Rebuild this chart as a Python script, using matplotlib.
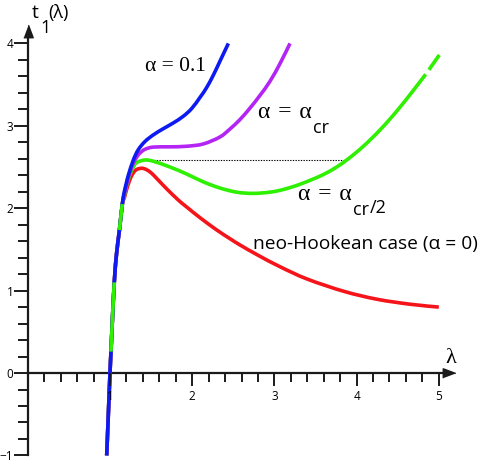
import numpy as np
import matplotlib
matplotlib.use("Agg")
import matplotlib.pyplot as plt
from matplotlib.ticker import FixedLocator
from matplotlib.path import Path
from matplotlib.patches import PathPatch

# ---------------- data ----------------
# shared steep branch near lambda = 1 (all four curves coincide)
shared_lam = [0.96, 0.98, 1.0, 1.012, 1.025, 1.052, 1.08, 1.115, 1.15]
shared_t = [-1.0, -0.5, 0.0, 0.26, 0.55, 1.10, 1.45, 1.735, 2.05]

blue_lam = [1.17, 1.20, 1.223, 1.284, 1.344, 1.426, 1.527, 1.648, 1.77, 1.89,
            1.994, 2.095, 2.176, 2.257, 2.338, 2.44]
blue_t = [2.18, 2.31, 2.40, 2.585, 2.71, 2.81, 2.89, 2.965, 3.035, 3.115,
          3.21, 3.345, 3.465, 3.615, 3.785, 4.00]

purple_lam = [1.172, 1.20, 1.243, 1.284, 1.325, 1.365, 1.426, 1.527, 1.73,
              1.933, 2.135, 2.338, 2.46, 2.58, 2.703, 2.825, 2.946, 3.068, 3.19]
purple_t = [2.16, 2.28, 2.44, 2.545, 2.62, 2.67, 2.715, 2.742, 2.745,
            2.752, 2.78, 2.865, 2.962, 3.075, 3.215, 3.37, 3.54, 3.755, 4.00]

green_lam = [1.174, 1.20, 1.243, 1.284, 1.325, 1.426, 1.527, 1.73, 1.933, 2.135,
             2.338, 2.54, 2.74, 2.946, 3.10, 3.31, 3.555, 3.717, 3.88, 4.08,
             4.285, 4.49, 4.69, 4.84, 4.88, 5.006]
green_t = [2.15, 2.27, 2.41, 2.50, 2.555, 2.585, 2.57, 2.50, 2.415, 2.32,
           2.245, 2.195, 2.18, 2.195, 2.225, 2.29, 2.39, 2.475, 2.585, 2.75,
           2.95, 3.18, 3.43, 3.625, 3.68, 3.86]

red_lam = [1.176, 1.20, 1.243, 1.284, 1.325, 1.386, 1.44, 1.50, 1.56, 1.608,
           1.69, 1.83, 1.933, 2.095, 2.30, 2.46, 2.58, 2.80, 3.068, 3.40,
           3.85, 4.25, 4.65, 5.00]
red_t = [2.13, 2.22, 2.35, 2.43, 2.47, 2.485, 2.47, 2.43, 2.37, 2.32,
         2.235, 2.10, 2.015, 1.885, 1.735, 1.63, 1.555, 1.43, 1.29, 1.14,
         0.99, 0.895, 0.835, 0.80]

# Maxwell (equal-area) line
maxwell_lam = [1.40, 3.88]
maxwell_t = 2.58

# green pieces drawn over the shared branch (t ranges) and gap in green curve
green_overlay_t = [(0.26, 1.10), (1.735, 2.05)]
green_gap = (4.84, 4.88)

x_major = [1, 2, 3, 4, 5]
y_major = [-1, 0, 1, 2, 3, 4]

# ---------------- styling ----------------
C_BLUE = "#0d1af2"
C_PURPLE = "#b324f5"
C_GREEN = "#2ef000"
C_RED = "#f5141a"
LW = 2.6
AX_C = "#1a1a1a"

SANS = ["Open Sans", "DejaVu Sans"]
SERIF = ["Liberation Serif", "DejaVu Serif"]

fig = plt.figure(figsize=(4.79, 4.63), dpi=100)
ax = fig.add_axes([0, 0, 1, 1])
ax.set_xlim(-0.338, 5.489)
ax.set_ylim(-1.092, 4.527)


def bezier_segments(x, y):
    """Smooth cubic Bezier pieces passing through every data point."""
    p = np.column_stack([x, y]).astype(float)
    n = len(p)
    segs = []
    for i in range(n - 1):
        p0 = p[i - 1] if i > 0 else p[i]
        p1, p2 = p[i], p[i + 1]
        p3 = p[i + 2] if i + 2 < n else p[i + 1]
        c1 = p1 + (p2 - p0) / 6.0
        c2 = p2 - (p3 - p1) / 6.0
        segs.append((p1, c1, c2, p2))
    return segs


def draw_segments(segs, **kw):
    if not segs:
        return
    verts, codes = [], []
    prev_end = None
    for (a, b, c, d) in segs:
        if prev_end is None or not np.allclose(prev_end, a):
            verts.append(a)
            codes.append(Path.MOVETO)
        verts += [b, c, d]
        codes += [Path.CURVE4] * 3
        prev_end = d
    patch = PathPatch(Path(np.array(verts), codes), fill=False,
                      capstyle="butt", joinstyle="round", **kw)
    ax.add_patch(patch)


def full(lam, t):
    return np.array(shared_lam + lam), np.array(shared_t + t)


rl, rt = full(red_lam, red_t)
gl, gt = full(green_lam, green_t)
pl, pt = full(purple_lam, purple_t)
bl, bt = full(blue_lam, blue_t)

ax.plot(maxwell_lam, [maxwell_t, maxwell_t], color="black", lw=0.8,
        ls=(0, (1.2, 1.2)), zorder=2)

red_segs = bezier_segments(rl, rt)
green_segs = bezier_segments(gl, gt)
purple_segs = bezier_segments(pl, pt)
blue_segs = bezier_segments(bl, bt)

draw_segments(red_segs, edgecolor=C_RED, lw=LW, zorder=3)
draw_segments([s for s in green_segs if s[3][0] <= green_gap[0] + 1e-9],
              edgecolor=C_GREEN, lw=LW, zorder=4)
draw_segments([s for s in green_segs if s[0][0] >= green_gap[1] - 1e-9],
              edgecolor=C_GREEN, lw=LW, zorder=4)
draw_segments(purple_segs, edgecolor=C_PURPLE, lw=LW, zorder=5)
draw_segments(blue_segs, edgecolor=C_BLUE, lw=LW, zorder=6)

for lo, hi in green_overlay_t:
    sel = [s for s in green_segs
           if s[0][1] >= lo - 1e-9 and s[3][1] <= hi + 1e-9 and s[3][0] < 1.16]
    draw_segments(sel, edgecolor=C_GREEN, lw=LW, zorder=7)

# ---------------- axes through origin ----------------
for s in ["top", "right"]:
    ax.spines[s].set_visible(False)
ax.spines["left"].set_position(("data", 0))
ax.spines["bottom"].set_position(("data", 0))
ax.spines["left"].set_bounds(-1, 4.12)
ax.spines["bottom"].set_bounds(0, 5.08)
for s in ["left", "bottom"]:
    ax.spines[s].set_linewidth(1.6)
    ax.spines[s].set_color(AX_C)

ax.xaxis.set_major_locator(FixedLocator(x_major))
ax.xaxis.set_minor_locator(FixedLocator([v / 5 for v in range(1, 26) if v % 5]))
ax.yaxis.set_major_locator(FixedLocator(y_major))
ax.yaxis.set_minor_locator(FixedLocator([v / 5 for v in range(-4, 20) if v % 5]))

ax.tick_params(axis="x", which="major", direction="out", length=9.4, width=1.4,
               pad=2.5, labelsize=8.5, color=AX_C)
ax.tick_params(axis="x", which="minor", direction="out", length=6.3, width=1.4,
               color=AX_C)
ax.tick_params(axis="y", which="major", direction="out", length=9.8, width=1.4,
               pad=0.5, labelsize=8.5, color=AX_C)
ax.tick_params(axis="y", which="minor", direction="out", length=7.2, width=1.4,
               color=AX_C)
ax.yaxis.set_major_formatter(plt.FuncFormatter(
    lambda v, p: ("\u2212%d" % abs(v)) if v < 0 else "%d" % v))
ax.xaxis.set_major_formatter(plt.FuncFormatter(lambda v, p: "%d" % v))
for lab in ax.get_xticklabels() + ax.get_yticklabels():
    lab.set_family(SANS)
ax.xaxis.set_zorder(10)

# arrowheads
arrow_v = [(-0.45, -0.6), (0.45, -0.6), (0.0, 0.6)]
ax.plot([0], [4.15], marker=arrow_v, markersize=9, color=AX_C,
        clip_on=False, zorder=8)
arrow_h = [(-0.6, -0.45), (-0.6, 0.45), (0.6, 0.0)]
ax.plot([5.12], [0], marker=arrow_h, markersize=9, color=AX_C,
        clip_on=False, zorder=8)

# ---------------- texts ----------------
ax.text(0.045, 4.31, "t", family=SANS, fontsize=14, ha="left", va="baseline")
ax.text(0.148, 4.13, "1", family=SANS, fontsize=13, ha="left", va="baseline")
ax.text(0.25, 4.31, "(λ)", family=SANS, fontsize=13, ha="left", va="baseline")
ax.text(5.08, 0.12, "λ", family=SERIF, fontsize=16, ha="left", va="baseline")

ax.text(1.425, 3.67, "α = 0.1", family=SERIF, fontsize=15.5, ha="left",
        va="baseline")


def alpha_label(x, y, suffix=None):
    main = ax.text(x, y, "α\u2004=\u2004α", family=SERIF, fontsize=17,
                   ha="left", va="baseline")
    sub = ax.annotate("cr", xy=(1, 0), xycoords=main, xytext=(1.0, -7.5),
                      textcoords="offset points", family=SANS, fontsize=13,
                      ha="left", va="baseline")
    if suffix:
        ax.annotate(suffix, xy=(1, 0), xycoords=sub, xytext=(0.5, 4.5),
                    textcoords="offset points", family=SANS, fontsize=13,
                    ha="left", va="baseline")


alpha_label(2.80, 3.10)
alpha_label(3.29, 2.10, "/2")

ax.text(2.736, 1.50, "neo-Hookean case (α = 0)", family=SANS, fontsize=13.8,
        ha="left", va="baseline")

fig.savefig("out.png", dpi=100)
